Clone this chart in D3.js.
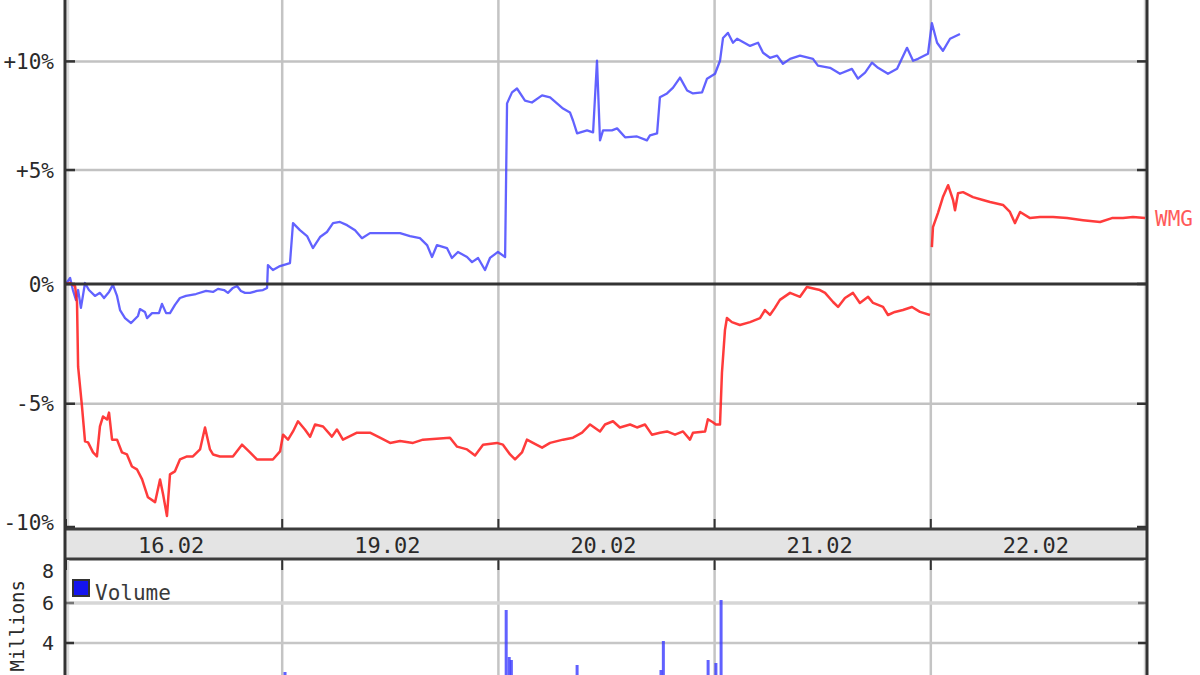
<!DOCTYPE html>
<html lang="en">
<head>
    <meta charset="UTF-8">
    <title>WMG intraday</title>
    <script src="https://d3js.org/d3.v7.min.js"></script>
    <style>
        body {
            margin: 0;
            background: #ffffff;
        }
        svg {
            display: block;
        }
        text {
            font-family: "DejaVu Sans Mono", "Liberation Mono", monospace;
        }
    </style>
</head>
<body>
<svg width="1200" height="675"></svg>

<script>
    // day labels on the x band
    const dayLabels = ["16.02", "19.02", "20.02", "21.02", "22.02"];

    // percent ticks on the price panel
    const pctTicks = [-10, -5, 0, 5, 10];
    const pctLabels = ["-10%", "-5%", "0%", "+5%", "+10%"];

    // volume ticks (millions)
    const volTicks = [4, 6, 8];

    // blue comparison line: [day offset, % change]
    const indexData = [
        [0.000, 0.00], [0.019, 0.26], [0.032, -0.26], [0.046, -0.68], [0.056, -0.26],
        [0.069, -1.02], [0.088, 0.04], [0.106, -0.26], [0.134, -0.51], [0.157, -0.38],
        [0.176, -0.60], [0.199, -0.34], [0.217, -0.04], [0.236, -0.51], [0.250, -1.11],
        [0.273, -1.45], [0.301, -1.66], [0.333, -1.36], [0.342, -1.07], [0.365, -1.19],
        [0.375, -1.45], [0.398, -1.24], [0.430, -1.24], [0.444, -0.85], [0.463, -1.24],
        [0.481, -1.24], [0.504, -0.89], [0.527, -0.60], [0.555, -0.51], [0.601, -0.43],
        [0.648, -0.30], [0.680, -0.34], [0.703, -0.21], [0.731, -0.26], [0.749, -0.38],
        [0.772, -0.17], [0.791, -0.09], [0.809, -0.30], [0.828, -0.38], [0.851, -0.38],
        [0.883, -0.30], [0.911, -0.26], [0.930, -0.17], [0.934, 0.81], [0.957, 0.60],
        [0.990, 0.77], [1.036, 0.90], [1.050, 2.64], [1.082, 2.33], [1.115, 2.07],
        [1.142, 1.55], [1.175, 2.03], [1.207, 2.25], [1.235, 2.64], [1.267, 2.69],
        [1.300, 2.55], [1.337, 2.33], [1.369, 1.98], [1.406, 2.20], [1.475, 2.20],
        [1.545, 2.20], [1.591, 2.07], [1.637, 1.98], [1.670, 1.68], [1.693, 1.16],
        [1.716, 1.68], [1.762, 1.55], [1.785, 1.12], [1.813, 1.38], [1.855, 1.16],
        [1.878, 0.94], [1.906, 1.12], [1.938, 0.60], [1.961, 1.12], [1.998, 1.38],
        [2.031, 1.16], [2.040, 8.04], [2.063, 8.55], [2.086, 8.73], [2.123, 8.17],
        [2.155, 8.08], [2.202, 8.41], [2.239, 8.32], [2.271, 8.04], [2.299, 7.80],
        [2.331, 7.62], [2.345, 7.25], [2.364, 6.66], [2.410, 6.80], [2.438, 6.71],
        [2.456, 10.03], [2.470, 6.34], [2.484, 6.80], [2.525, 6.80], [2.549, 6.89],
        [2.586, 6.48], [2.641, 6.52], [2.687, 6.34], [2.701, 6.57], [2.734, 6.66],
        [2.747, 8.32], [2.780, 8.50], [2.808, 8.77], [2.840, 9.24], [2.873, 8.64],
        [2.900, 8.50], [2.942, 8.55], [2.965, 9.19], [3.002, 9.42], [3.025, 10.03],
        [3.039, 11.11], [3.062, 11.35], [3.085, 10.88], [3.104, 11.07], [3.164, 10.73],
        [3.201, 10.88], [3.224, 10.41], [3.256, 10.17], [3.289, 10.27], [3.316, 9.89],
        [3.349, 10.12], [3.395, 10.27], [3.455, 10.12], [3.478, 9.80], [3.534, 9.70],
        [3.580, 9.42], [3.635, 9.65], [3.663, 9.19], [3.696, 9.47], [3.728, 9.94],
        [3.756, 9.70], [3.802, 9.42], [3.844, 9.65], [3.890, 10.64], [3.918, 10.03],
        [3.941, 10.12], [3.987, 10.36], [4.005, 11.82], [4.029, 10.88], [4.056, 10.50],
        [4.089, 11.07], [4.135, 11.30]
    ];

    // red WMG line: [day offset, % change], null = no data
    const wmgData = [
        [0.000, 0.00], [0.019, 0.04], [0.042, -0.09], [0.051, -0.81], [0.056, -3.48],
        [0.074, -5.12], [0.088, -6.52], [0.102, -6.56], [0.125, -6.96], [0.143, -7.12],
        [0.157, -5.92], [0.171, -5.52], [0.190, -5.64], [0.199, -5.36], [0.213, -6.45],
        [0.236, -6.45], [0.259, -6.96], [0.282, -7.04], [0.305, -7.52], [0.328, -7.63],
        [0.352, -8.03], [0.379, -8.73], [0.412, -8.92], [0.435, -8.03], [0.449, -8.61],
        [0.467, -9.46], [0.481, -7.83], [0.504, -7.71], [0.527, -7.24], [0.560, -7.12],
        [0.587, -7.12], [0.620, -6.84], [0.643, -5.96], [0.666, -6.84], [0.680, -7.04],
        [0.712, -7.12], [0.772, -7.12], [0.814, -6.65], [0.851, -6.96], [0.883, -7.24],
        [0.957, -7.24], [0.990, -6.92], [1.004, -6.25], [1.027, -6.45], [1.050, -6.12],
        [1.073, -5.71], [1.105, -6.04], [1.129, -6.33], [1.152, -5.84], [1.189, -5.92],
        [1.230, -6.33], [1.253, -6.04], [1.281, -6.45], [1.346, -6.17], [1.406, -6.17],
        [1.452, -6.37], [1.499, -6.58], [1.545, -6.50], [1.605, -6.58], [1.651, -6.45],
        [1.776, -6.37], [1.809, -6.73], [1.855, -6.84], [1.892, -7.08], [1.929, -6.65],
        [1.993, -6.58], [2.021, -6.65], [2.054, -7.04], [2.077, -7.24], [2.109, -6.96],
        [2.132, -6.45], [2.160, -6.58], [2.202, -6.77], [2.239, -6.58], [2.299, -6.45],
        [2.345, -6.37], [2.387, -6.17], [2.424, -5.84], [2.470, -6.12], [2.493, -5.84],
        [2.530, -5.71], [2.562, -5.96], [2.609, -5.84], [2.641, -5.96], [2.678, -5.84],
        [2.710, -6.25], [2.747, -6.17], [2.780, -6.12], [2.817, -6.25], [2.854, -6.12],
        [2.886, -6.45], [2.900, -6.17], [2.956, -6.12], [2.969, -5.63], [2.992, -5.75],
        [3.006, -5.84], [3.025, -5.84], [3.034, -3.73], [3.048, -1.95], [3.057, -1.45],
        [3.080, -1.62], [3.117, -1.74], [3.164, -1.62], [3.210, -1.45], [3.233, -1.11],
        [3.256, -1.32], [3.279, -1.02], [3.302, -0.68], [3.349, -0.38], [3.395, -0.55],
        [3.427, -0.13], [3.487, -0.26], [3.511, -0.38], [3.548, -0.77], [3.571, -0.98],
        [3.603, -0.60], [3.640, -0.38], [3.672, -0.81], [3.710, -0.55], [3.733, -0.81],
        [3.779, -0.98], [3.802, -1.32], [3.834, -1.19], [3.871, -1.11], [3.913, -0.98],
        [3.950, -1.19], [3.996, -1.32], [4.000, null],
        [4.005, 1.59], [4.010, 2.46], [4.033, 3.08], [4.056, 3.79], [4.080, 4.32],
        [4.103, 3.66], [4.112, 3.21], [4.126, 3.96], [4.149, 4.01], [4.195, 3.79],
        [4.241, 3.66], [4.274, 3.57], [4.334, 3.44], [4.366, 3.13], [4.389, 2.64],
        [4.413, 3.13], [4.459, 2.86], [4.505, 2.91], [4.565, 2.91], [4.630, 2.86],
        [4.704, 2.77], [4.783, 2.69], [4.838, 2.86], [4.889, 2.86], [4.935, 2.91],
        [4.991, 2.86]
    ];

    // volume bars: [day offset, millions]
    const volumeData = [
        [0.05, 1.6], [0.30, 0.9], [0.62, 0.7], [0.95, 1.2], [1.013, 2.55],
        [1.40, 0.8], [1.80, 0.9], [2.036, 5.65], [2.050, 3.3], [2.060, 3.15],
        [2.364, 2.9], [2.500, 1.1], [2.752, 2.65], [2.763, 4.1], [2.970, 3.15],
        [3.006, 3.0], [3.030, 6.15], [3.300, 1.0], [3.700, 0.8], [4.010, 2.0],
        [4.400, 0.6], [4.800, 0.5]
    ];

    const seriesLabel = "WMG";

    // ---- layout ----
    const left = 65, right = 1147;
    const priceTop = 0, priceBottom = 529;
    const bandTop = 530, bandBottom = 558;
    const volTop = 560, volBottom = 723;

    const svg = d3.select("svg");

    const x = d3.scaleLinear().domain([0, 5]).range([left + 1, right]);

    // price panel is on a log scale of the price ratio
    const y = d3.scaleLog().domain([0.9, 1.1293]).range([530, priceTop]);
    const yPct = p => y(1 + p / 100);

    const yVol = d3.scaleLinear().domain([0, 8.15]).range([volBottom, volTop]);

    const dayBounds = d3.range(0, 6);

    // clip areas
    const defs = svg.append("defs");
    defs.append("clipPath").attr("id", "clipPrice")
        .append("rect").attr("x", left).attr("y", priceTop - 10)
        .attr("width", right - left).attr("height", priceBottom - priceTop + 10);
    defs.append("clipPath").attr("id", "clipVol")
        .append("rect").attr("x", left).attr("y", volTop)
        .attr("width", right - left).attr("height", volBottom - volTop);

    // ---- price panel grid ----
    const gp = svg.append("g");

    gp.selectAll("line.vgrid")
        .data(dayBounds)
        .enter().append("line")
        .attr("class", "vgrid")
        .attr("x1", d => x(d) + (d === 0 ? 2 : d === 5 ? -2 : 0))
        .attr("x2", d => x(d) + (d === 0 ? 2 : d === 5 ? -2 : 0))
        .attr("y1", priceTop - 10).attr("y2", priceBottom)
        .attr("stroke", d => (d === 0 || d === 5) ? "#dddddd" : "#c4c4c4")
        .attr("stroke-width", 2.5);

    gp.selectAll("line.hgrid")
        .data(pctTicks.filter(d => d !== 0 && d !== -10))
        .enter().append("line")
        .attr("class", "hgrid")
        .attr("x1", left).attr("x2", right)
        .attr("y1", d => yPct(d)).attr("y2", d => yPct(d))
        .attr("stroke", "#c2c2c2")
        .attr("stroke-width", 2.5);

    // left / right ticks
    gp.selectAll("line.ltick")
        .data(pctTicks)
        .enter().append("line")
        .attr("x1", left).attr("x2", left + 10)
        .attr("y1", d => Math.min(yPct(d), priceBottom - 2))
        .attr("y2", d => Math.min(yPct(d), priceBottom - 2))
        .attr("stroke", "#333").attr("stroke-width", 2.5);
    gp.selectAll("line.rtick")
        .data(pctTicks)
        .enter().append("line")
        .attr("x1", right - 10).attr("x2", right)
        .attr("y1", d => Math.min(yPct(d), priceBottom - 2))
        .attr("y2", d => Math.min(yPct(d), priceBottom - 2))
        .attr("stroke", "#333").attr("stroke-width", 2.5);

    // bottom ticks at day boundaries
    gp.selectAll("line.btick")
        .data(dayBounds.slice(0, 5))
        .enter().append("line")
        .attr("x1", d => x(d)).attr("x2", d => x(d))
        .attr("y1", priceBottom - 10).attr("y2", priceBottom)
        .attr("stroke", "#333").attr("stroke-width", 2);

    // y labels
    gp.selectAll("text.ylab")
        .data(pctTicks)
        .enter().append("text")
        .attr("x", 54)
        .attr("y", d => Math.min(yPct(d), priceBottom - 7))
        .attr("dy", "0.36em")
        .attr("text-anchor", "end")
        .attr("font-size", 21)
        .attr("fill", "#2a2a2a")
        .text((d, i) => pctLabels[i]);

    // ---- lines ----
    const line = d3.line()
        .defined(d => d[1] !== null)
        .x(d => x(d[0]))
        .y(d => yPct(d[1]));

    const gl = svg.append("g").attr("clip-path", "url(#clipPrice)");

    gl.append("path")
        .datum(indexData)
        .attr("d", line)
        .attr("fill", "none")
        .attr("stroke", "#4646ff")
        .attr("stroke-opacity", 0.85)
        .attr("stroke-width", 2.3)
        .attr("stroke-linejoin", "round");

    gl.append("path")
        .datum(wmgData)
        .attr("d", line)
        .attr("fill", "none")
        .attr("stroke", "#ff2626")
        .attr("stroke-opacity", 0.9)
        .attr("stroke-width", 2.5)
        .attr("stroke-linejoin", "round");

    // zero line on top
    svg.append("line")
        .attr("x1", left).attr("x2", right)
        .attr("y1", yPct(0)).attr("y2", yPct(0))
        .attr("stroke", "#333").attr("stroke-width", 3);

    // series label at the right
    const lastWmg = wmgData[wmgData.length - 1];
    svg.append("text")
        .attr("x", right + 8)
        .attr("y", yPct(lastWmg[1]))
        .attr("dy", "0.36em")
        .attr("font-size", 21)
        .attr("fill", "#ff5a5a")
        .text(seriesLabel);

    // ---- date band ----
    svg.append("rect")
        .attr("x", left).attr("y", bandTop)
        .attr("width", right - left).attr("height", bandBottom - bandTop)
        .attr("fill", "#e4e4e4");
    svg.append("line")
        .attr("x1", left).attr("x2", right)
        .attr("y1", priceBottom).attr("y2", priceBottom)
        .attr("stroke", "#3c3c3c").attr("stroke-width", 3);
    svg.append("line")
        .attr("x1", left).attr("x2", right)
        .attr("y1", bandBottom + 1).attr("y2", bandBottom + 1)
        .attr("stroke", "#3c3c3c").attr("stroke-width", 3);

    svg.selectAll("text.day")
        .data(dayLabels)
        .enter().append("text")
        .attr("x", (d, i) => x(i + 0.5) - 3)
        .attr("y", (bandTop + bandBottom) / 2 + 1)
        .attr("dy", "0.36em")
        .attr("text-anchor", "middle")
        .attr("font-size", 22)
        .attr("fill", "#2a2a2a")
        .text(d => d);

    // ---- volume panel ----
    const gv = svg.append("g");

    gv.selectAll("line.vgrid2")
        .data(dayBounds)
        .enter().append("line")
        .attr("x1", d => x(d) + (d === 0 ? 2 : d === 5 ? -2 : 0))
        .attr("x2", d => x(d) + (d === 0 ? 2 : d === 5 ? -2 : 0))
        .attr("y1", volTop).attr("y2", volBottom)
        .attr("stroke", d => (d === 0 || d === 5) ? "#dddddd" : "#c4c4c4")
        .attr("stroke-width", 2.5);

    gv.selectAll("line.vtick2")
        .data(dayBounds.slice(0, 5))
        .enter().append("line")
        .attr("x1", d => x(d)).attr("x2", d => x(d))
        .attr("y1", volTop).attr("y2", volTop + 10)
        .attr("stroke", "#333").attr("stroke-width", 2);

    gv.selectAll("line.vhgrid")
        .data(volTicks.filter(d => d < 8))
        .enter().append("line")
        .attr("x1", left).attr("x2", right)
        .attr("y1", d => yVol(d)).attr("y2", d => yVol(d))
        .attr("stroke", d => d === 6 ? "#d6d6d6" : "#c6c6c6")
        .attr("stroke-width", d => d === 6 ? 3.5 : 2.5);

    gv.selectAll("line.vltick")
        .data(volTicks.filter(d => d < 8))
        .enter().append("line")
        .attr("x1", left).attr("x2", left + 9)
        .attr("y1", d => yVol(d)).attr("y2", d => yVol(d))
        .attr("stroke", d => d === 6 ? "#777" : "#333").attr("stroke-width", 2.5);
    gv.selectAll("line.vrtick")
        .data(volTicks.filter(d => d < 8))
        .enter().append("line")
        .attr("x1", right - 9).attr("x2", right)
        .attr("y1", d => yVol(d)).attr("y2", d => yVol(d))
        .attr("stroke", d => d === 6 ? "#777" : "#333").attr("stroke-width", 2.5);

    gv.selectAll("text.vlab")
        .data(volTicks)
        .enter().append("text")
        .attr("x", 54)
        .attr("y", d => Math.max(yVol(d), volTop + 11))
        .attr("dy", "0.36em")
        .attr("text-anchor", "end")
        .attr("font-size", 20)
        .attr("fill", "#2a2a2a")
        .text(d => d);

    // axis title, kept fully inside the window
    svg.append("text")
        .attr("transform", "translate(24," + (volTop + 20) + ") rotate(-90)")
        .attr("text-anchor", "end")
        .attr("font-size", 19)
        .attr("fill", "#2a2a2a")
        .text("Millions");

    gv.append("g").attr("clip-path", "url(#clipVol)")
        .selectAll("rect")
        .data(volumeData)
        .enter().append("rect")
        .attr("x", d => x(d[0]) - 1.5)
        .attr("y", d => yVol(d[1]))
        .attr("width", 3)
        .attr("height", d => yVol(0) - yVol(d[1]))
        .attr("fill", "#3a3aff")
        .attr("fill-opacity", 0.8);

    // legend
    svg.append("rect")
        .attr("x", 73).attr("y", 580)
        .attr("width", 16).attr("height", 16)
        .attr("fill", "#1414ee")
        .attr("stroke", "#333").attr("stroke-width", 2);
    svg.append("text")
        .attr("x", 95).attr("y", 592)
        .attr("dy", "0.36em")
        .attr("font-size", 21)
        .attr("fill", "#3a3a3a")
        .text("Volume");

    // frame borders
    svg.append("line")
        .attr("x1", left).attr("x2", left)
        .attr("y1", priceTop - 10).attr("y2", volBottom)
        .attr("stroke", "#333").attr("stroke-width", 3);
    svg.append("line")
        .attr("x1", right).attr("x2", right)
        .attr("y1", priceTop - 10).attr("y2", volBottom)
        .attr("stroke", "#333").attr("stroke-width", 3);
</script>
</body>
</html>
